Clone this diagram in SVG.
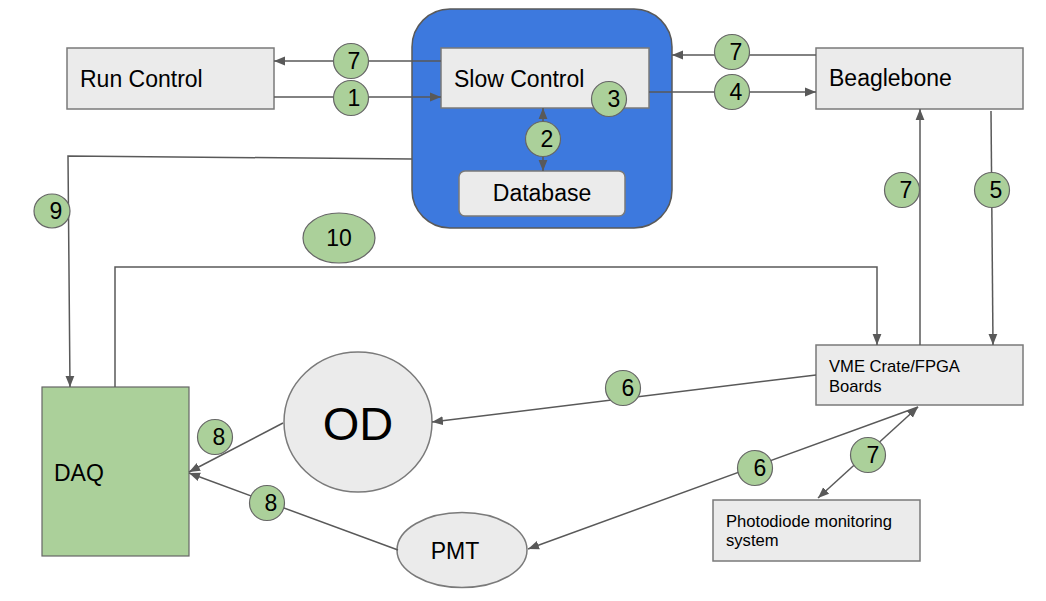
<svg xmlns="http://www.w3.org/2000/svg" width="1046" height="601" viewBox="0 0 1046 601">
<style>
text{font-family:"Liberation Sans",Arial,sans-serif;fill:#000;font-size:23px}
.box{fill:#ebebeb;stroke:#7a7a7a;stroke-width:1.5}
.lbl{fill:#abd09a;stroke:#666;stroke-width:1.2}
.ln{fill:none;stroke:#595959;stroke-width:1.5}
.num{text-anchor:middle}
.sm{font-size:16.6px}
</style>
<defs>
<marker id="a" viewBox="0 0 10 10" refX="10" refY="5" markerWidth="11" markerHeight="11" orient="auto-start-reverse" markerUnits="userSpaceOnUse">
<path d="M0,1 L10,5 L0,9 z" fill="#595959"/>
</marker>
</defs>

<g id="scgroup"><rect x="412" y="9" width="260" height="219" rx="38" fill="#3d79de" stroke="#595959" stroke-width="1.5"/></g>
<g id="runcontrol"><rect class="box" x="67" y="48" width="207" height="61"/><text x="80" y="87">Run Control</text></g>
<g id="slowcontrol"><rect class="box" x="441" y="48" width="208" height="60"/><text x="454" y="87">Slow Control</text></g>
<g id="database"><rect class="box" x="459" y="171" width="166" height="45" rx="6"/><text x="542" y="201" text-anchor="middle">Database</text></g>
<g id="beaglebone"><rect class="box" x="816" y="48" width="207" height="61"/><text x="829" y="86">Beaglebone</text></g>
<g id="vme"><rect class="box" x="816" y="345" width="207" height="60"/><text class="sm" x="829" y="372">VME Crate/FPGA</text><text class="sm" x="829" y="392">Boards</text></g>
<g id="photodiode"><rect class="box" x="713" y="500" width="207" height="61"/><text class="sm" x="726" y="527">Photodiode monitoring</text><text class="sm" x="726" y="546">system</text></g>
<g id="daq"><rect x="42" y="387" width="147" height="169" fill="#abd09a" stroke="#666" stroke-width="1.2"/><text x="54" y="481">DAQ</text></g>
<g id="od"><ellipse class="box" cx="358" cy="422" rx="74" ry="70"/><text x="358" y="440" text-anchor="middle" style="font-size:47px">OD</text></g>
<g id="pmt"><ellipse class="box" cx="462" cy="550" rx="65" ry="37.5"/><text x="455" y="559" text-anchor="middle">PMT</text></g>

<g id="connectors">
<path class="ln" d="M441,61 L274,61" marker-end="url(#a)"/>
<path class="ln" d="M274,97 L441,97" marker-end="url(#a)"/>
<path class="ln" d="M543,171 L543,108" marker-start="url(#a)" marker-end="url(#a)"/>
<path class="ln" d="M816,55 L672,55" marker-end="url(#a)"/>
<path class="ln" d="M649,92 L816,92" marker-end="url(#a)"/>
<path class="ln" d="M920,345 L920,109" marker-end="url(#a)"/>
<path class="ln" d="M991,111 L993,345" marker-end="url(#a)"/>
<path class="ln" d="M412,159 L68,156 L70,387" marker-end="url(#a)"/>
<path class="ln" d="M115,387 L115,267 L877,267 L877,345" marker-end="url(#a)"/>
<path class="ln" d="M816,375 L432,422" marker-end="url(#a)"/>
<path class="ln" d="M918,407 L528,549" marker-end="url(#a)"/>
<path class="ln" d="M818,498 L918,407" marker-start="url(#a)" marker-end="url(#a)"/>
<path class="ln" d="M283,423 L189,472" marker-end="url(#a)"/>
<path class="ln" d="M398,550 L189,473" marker-end="url(#a)"/>
</g>

<g id="labels">
<g id="l7a"><circle class="lbl" cx="351" cy="61" r="17.5"/><text class="num" x="354" y="69">7</text></g>
<g id="l1"><circle class="lbl" cx="351" cy="98" r="17.5"/><text class="num" x="354" y="106">1</text></g>
<g id="l3"><circle class="lbl" cx="609" cy="99" r="17.5"/><text class="num" x="614" y="107">3</text></g>
<g id="l2"><circle class="lbl" cx="543" cy="139" r="17.5"/><text class="num" x="547" y="147">2</text></g>
<g id="l7b"><circle class="lbl" cx="732" cy="52" r="17.5"/><text class="num" x="736" y="60">7</text></g>
<g id="l4"><circle class="lbl" cx="732" cy="92" r="17.5"/><text class="num" x="736" y="100">4</text></g>
<g id="l7c"><circle class="lbl" cx="902" cy="190" r="17.5"/><text class="num" x="906" y="198">7</text></g>
<g id="l5"><circle class="lbl" cx="992" cy="190" r="17.5"/><text class="num" x="996" y="198">5</text></g>
<g id="l9"><ellipse class="lbl" cx="52" cy="211" rx="18" ry="17"/><text class="num" x="56" y="219">9</text></g>
<g id="l10"><ellipse class="lbl" cx="339" cy="238" rx="36" ry="25"/><text class="num" x="339" y="246">10</text></g>
<g id="l6a"><circle class="lbl" cx="623" cy="388" r="17.5"/><text class="num" x="628" y="396">6</text></g>
<g id="l6b"><circle class="lbl" cx="755" cy="468" r="17.5"/><text class="num" x="760" y="476">6</text></g>
<g id="l7d"><circle class="lbl" cx="868" cy="455" r="17.5"/><text class="num" x="873" y="463">7</text></g>
<g id="l8a"><circle class="lbl" cx="215" cy="437" r="17.5"/><text class="num" x="219" y="445">8</text></g>
<g id="l8b"><circle class="lbl" cx="267" cy="503" r="17.5"/><text class="num" x="271" y="511">8</text></g>
</g>
</svg>
